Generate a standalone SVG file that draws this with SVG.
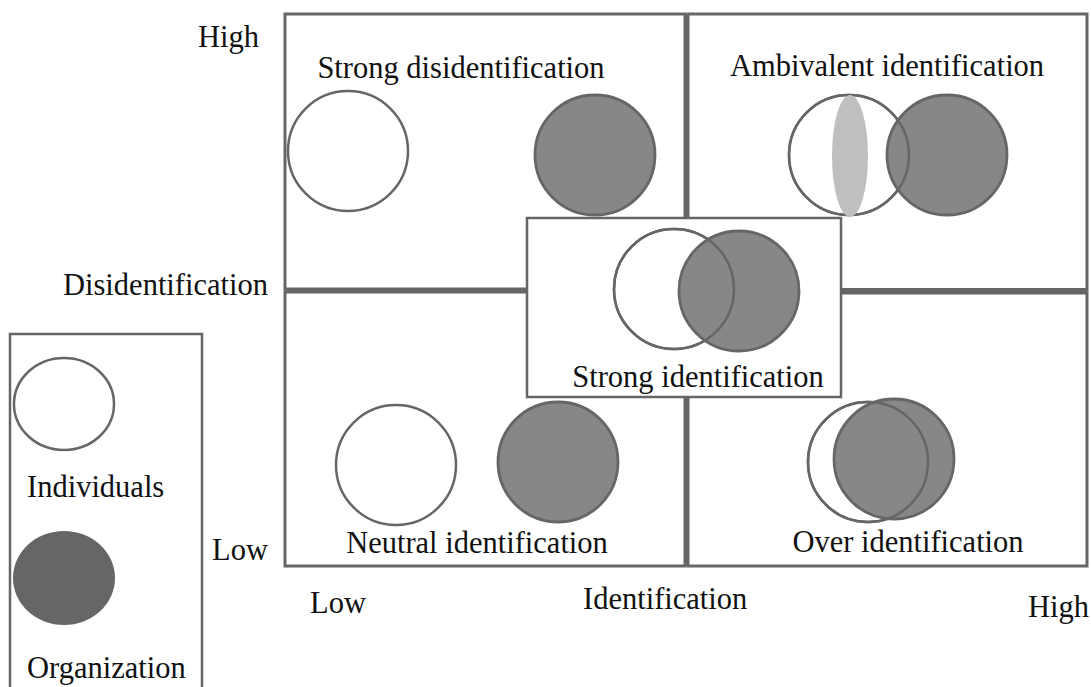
<svg xmlns="http://www.w3.org/2000/svg" width="1091" height="687" viewBox="0 0 1091 687">
  <style>
    .box { fill: #ffffff; stroke: #666666; stroke-width: 3; }
    .divider { stroke: #666666; stroke-width: 5; fill: none; }
    .inner { fill: #ffffff; stroke: #666666; stroke-width: 2.5; }
    .ind { fill: #ffffff; stroke: #666666; stroke-width: 2.5; }
    .ring { fill: none; stroke: #666666; stroke-width: 2.5; }
    .org { fill: #878787; stroke: #666666; stroke-width: 2.8; }
    .lbl { font-family: "Liberation Serif", "Times New Roman", serif; font-size: 30.5px; fill: #111111; }
    .mid { text-anchor: middle; }
  </style>

  <!-- quadrant frames -->
  <g id="quadrants">
    <rect id="q-top-left" class="box" x="285" y="14" width="400" height="275"/>
    <rect id="q-top-right" class="box" x="688" y="14" width="399" height="276"/>
    <rect id="q-bottom-left" class="box" x="285" y="292" width="400" height="274"/>
    <rect id="q-bottom-right" class="box" x="688" y="293" width="399" height="273"/>
    <line class="divider" x1="686.5" y1="14" x2="686.5" y2="566"/>
    <line class="divider" x1="285" y1="290.5" x2="1087" y2="290.5"/>
  </g>

  <!-- strong disidentification -->
  <g id="strong-disidentification">
    <circle class="ind" cx="348" cy="151" r="60"/>
    <circle class="org" cx="595" cy="155" r="60"/>
    <text class="lbl mid" x="461" y="78">Strong disidentification</text>
  </g>

  <!-- ambivalent identification -->
  <g id="ambivalent-identification">
    <circle class="ind" cx="849" cy="155" r="60"/>
    <circle class="org" cx="947" cy="155" r="60"/>
    <circle class="ring" cx="849" cy="155" r="60"/>
    <ellipse cx="850" cy="156" rx="18" ry="61" fill="#bfbfbf"/>
    <text class="lbl mid" x="887" y="76">Ambivalent identification</text>
  </g>

  <!-- neutral identification -->
  <g id="neutral-identification">
    <circle class="ind" cx="396" cy="465" r="60"/>
    <circle class="org" cx="558" cy="462" r="60"/>
    <text class="lbl mid" x="477" y="553">Neutral identification</text>
  </g>

  <!-- over identification -->
  <g id="over-identification">
    <circle class="ind" cx="868" cy="462" r="60"/>
    <circle class="org" cx="894" cy="459" r="60"/>
    <circle class="ring" cx="868" cy="462" r="60"/>
    <text class="lbl mid" x="908" y="552">Over identification</text>
  </g>

  <!-- strong identification (centre overlay) -->
  <g id="strong-identification">
    <rect class="inner" x="527" y="218" width="314" height="179"/>
    <circle class="ind" cx="674" cy="289" r="60"/>
    <circle class="org" cx="739" cy="291" r="60"/>
    <circle class="ring" cx="674" cy="289" r="60"/>
    <text class="lbl mid" x="698" y="387">Strong identification</text>
  </g>

  <!-- axis labels -->
  <g id="axes">
    <text class="lbl" x="198" y="47">High</text>
    <text class="lbl" x="63" y="295">Disidentification</text>
    <text class="lbl" x="212" y="560">Low</text>
    <text class="lbl" x="310" y="613">Low</text>
    <text class="lbl" x="583" y="609">Identification</text>
    <text class="lbl" x="1028" y="617">High</text>
  </g>

  <!-- legend -->
  <g id="legend">
    <rect class="inner" x="10" y="334" width="192" height="370"/>
    <ellipse class="ind" cx="64" cy="404" rx="50" ry="46"/>
    <text class="lbl" x="27" y="497">Individuals</text>
    <ellipse cx="64" cy="578" rx="51" ry="47" fill="#666666"/>
    <text class="lbl" x="27" y="678">Organization</text>
  </g>
</svg>
